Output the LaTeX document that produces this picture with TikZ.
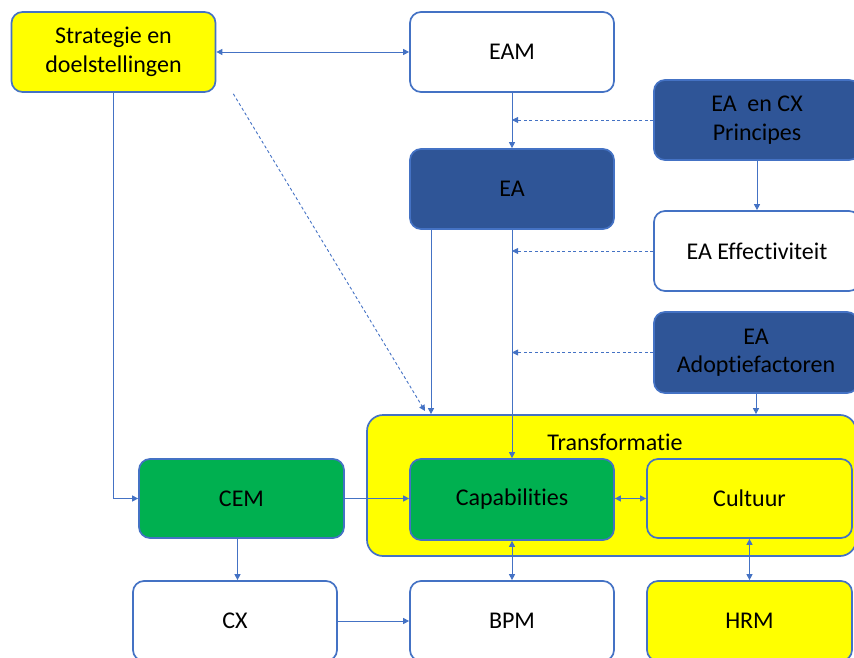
\documentclass[tikz,border=0pt]{standalone}
\usepackage{fontspec}
\setmainfont{Carlito}[Ligatures=NoCommon]
\usetikzlibrary{arrows.meta}
\definecolor{edgeblue}{HTML}{4472C4}
\definecolor{darkblue}{HTML}{2F5597}
\definecolor{boxyellow}{HTML}{FFFF00}
\definecolor{boxgreen}{HTML}{00B050}
\tikzset{
  boxfont/.style={font=\fontsize{24}{28.5}\selectfont},
  box/.style={draw=edgeblue, line width=1.7pt, rounded corners=11pt,
    minimum width=204pt, minimum height=80pt, align=center,
    boxfont, text=black, inner sep=2pt},
  whitebox/.style={box, fill=white},
  yellowbox/.style={box, fill=boxyellow},
  greenbox/.style={box, fill=boxgreen},
  bluebox/.style={box, fill=darkblue},
  conn/.style={draw=edgeblue, line width=0.9pt},
  arr/.style={conn, -{Triangle[length=6pt,width=6pt]}},
  biarr/.style={conn, {Triangle[length=6pt,width=6pt]}-{Triangle[length=6pt,width=6pt]}},
  dasharr/.style={arr, dash pattern=on 3pt off 2.5pt},
}
\begin{document}
\begin{tikzpicture}[x=1pt, y=-1pt]
  \useasboundingbox (0,0) rectangle (854,658);
  \clip (0,0) rectangle (854,658);

  % container
  \node[yellowbox, minimum width=489pt, minimum height=141pt, rounded corners=16pt] (trans) at (611.5,485.5) {};
  \node[boxfont] (translbl) at (615,442) {Transformatie};

  % boxes
  \node[yellowbox] (strat) at (113.5,52) {Strategie en\\doelstellingen};
  \node[whitebox]  (eam)   at (512,52)   {EAM};
  \node[bluebox, minimum width=206pt] (princ) at (757,120) {EA\ \ en CX\\Principes};
  \node[bluebox]   (ea)    at (512,189)  {EA};
  \node[whitebox, minimum width=206pt] (eff) at (757,251) {EA Effectiviteit};
  \node[bluebox, minimum width=204pt, minimum height=81pt] (adopt) at (756,352.5) {EA\\Adoptiefactoren};
  \node[greenbox, minimum width=205pt, minimum height=79pt] (cem) at (241.5,498.5) {CEM};
  \node[greenbox, minimum height=81pt] (cap) at (512,499.5) {Capabilities};
  \node[yellowbox, minimum width=205pt, minimum height=79pt] (cult) at (749.5,498.5) {Cultuur};
  \node[whitebox] (cx)  at (235,621) {CX};
  \node[whitebox] (bpm) at (512,621) {BPM};
  \node[yellowbox, minimum width=205pt] (hrm) at (749.5,621) {HRM};

  % connectors
  \draw[biarr] (strat.east) -- (eam.west);
  \draw[arr] (eam) -- (ea);
  \draw[dasharr] (princ.west) -- (eam.south |- princ.west);
  \draw[arr] (princ) -- (eff);
  \draw[dasharr] (eff.west) -- (ea.south |- eff.west);
  \draw[dasharr] (adopt.west) -- (ea.south |- adopt.west);
  \draw[arr] (ea) -- (cap);
  \draw[arr] ([xshift=-81pt]ea.south) -- ([xshift=-81pt]ea.south |- trans.north);
  \coordinate (diagstart) at ([xshift=17pt,yshift=-1pt]strat.south east);
  \coordinate (diagend) at (425,411);
  \draw[dasharr] (diagstart) -- (diagend);
  \draw[arr] (adopt.south) -- (adopt.south |- trans.north);
  \draw[arr] (strat.south) |- (cem.west);
  \draw[arr] (cem.east) -- (cem.east -| cap.west);
  \draw[biarr] (cap.east |- cult.west) -- (cult.west);
  \draw[arr] ([xshift=-4pt]cem.south) -- ([xshift=-4pt]cem.south |- cx.north);
  \draw[biarr] (cap) -- (bpm);
  \draw[biarr] (cult) -- (hrm);
  \draw[arr] (cx.east) -- (bpm.west);
\end{tikzpicture}
\end{document}
